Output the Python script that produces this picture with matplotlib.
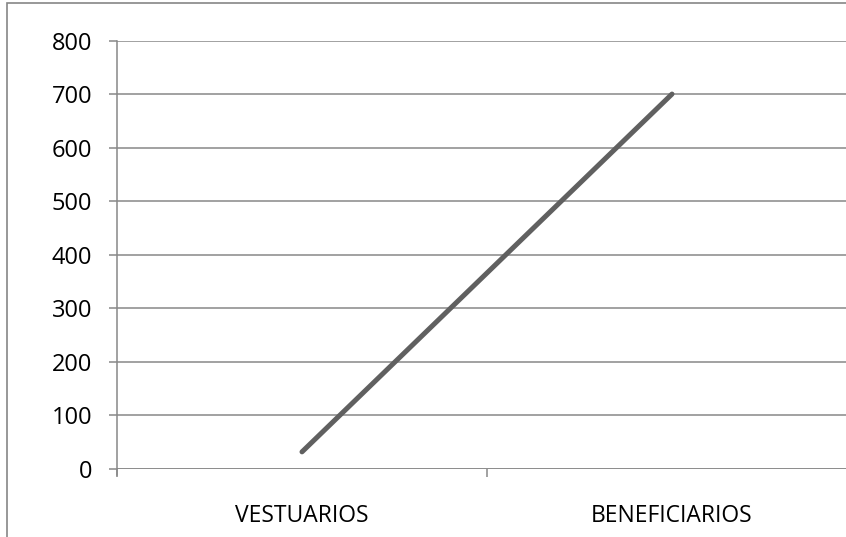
import matplotlib
matplotlib.use("Agg")
import matplotlib.pyplot as plt
from matplotlib.patches import Rectangle

categories = ["VESTUARIOS", "BENEFICIARIOS"]
values = [32, 700]
y_ticks = [0, 100, 200, 300, 400, 500, 600, 700, 800]

plt.rcParams['font.family'] = ['Open Sans', 'DejaVu Sans']

fig = plt.figure(figsize=(8.46, 5.37), dpi=100)
# plot area runs past the right edge, like the cropped original
ax = fig.add_axes([117 / 846, 68 / 537, 740 / 846, 428.5 / 537])

# outer chart border
fig.patches.append(Rectangle((7 / 846, -0.2), 2, 1.2 - 3 / 537, transform=fig.transFigure,
                             fill=False, edgecolor='#868686', linewidth=1.2))

x = list(range(len(categories)))
ax.plot(x, values, color='#606060', linewidth=3.6, solid_capstyle='round')

ax.set_xlim(-0.5, len(categories) - 0.5)
ax.set_ylim(0, 800)
ax.set_yticks(y_ticks)
ax.set_xticks(x)
ax.set_xticklabels(categories)
ax.set_xticks([-0.5, 0.5, 1.5], minor=True)

ax.grid(axis='y', color='#888888', linewidth=1.1)
ax.set_axisbelow(True)
for s in ['top', 'right', 'bottom']:
    ax.spines[s].set_visible(False)
ax.spines['left'].set_color('#888888')
ax.spines['left'].set_linewidth(1.1)
ax.spines['left'].set_bounds(-12, 800)
ax.axhline(0, color='#888888', linewidth=1.1)

ax.tick_params(axis='y', length=6, width=1.1, color='#888888', pad=12, labelsize=17)
ax.tick_params(axis='x', which='major', length=0, pad=25, labelsize=16.5)
ax.tick_params(axis='x', which='minor', length=6, width=1.1, color='#888888', direction='out')

fig.savefig("out.png", dpi=100)
